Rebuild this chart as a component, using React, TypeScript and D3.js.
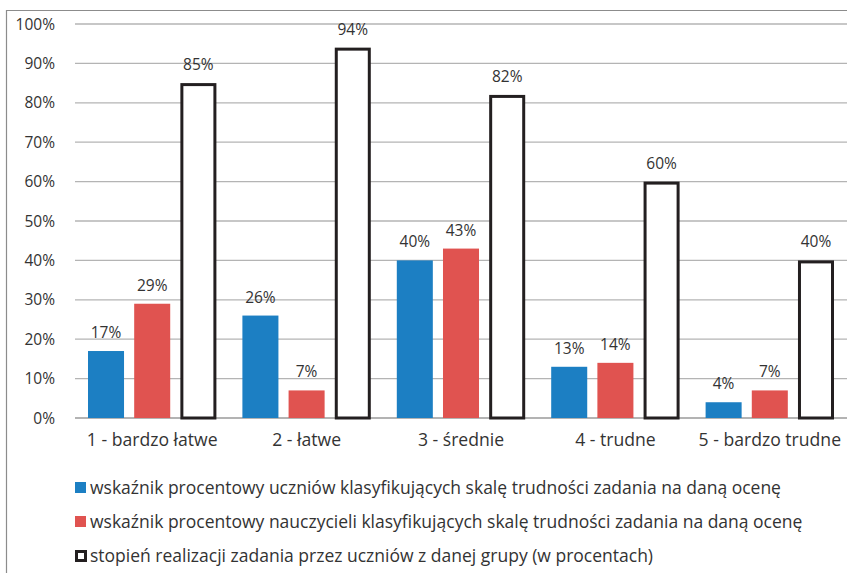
import * as React from "react"
import * as d3 from "d3"

const categories = ["1 - bardzo łatwe", "2 - łatwe", "3 - średnie", "4 - trudne", "5 - bardzo trudne"]
const studentsPct = [17, 26, 40, 13, 4]
const teachersPct = [29, 7, 43, 14, 7]
const realizationPct = [85, 94, 82, 60, 40]
const yTicks = [0, 10, 20, 30, 40, 50, 60, 70, 80, 90, 100]
const seriesKeys = ["students", "teachers", "realization"]
const legendLabels = [
  "wskaźnik procentowy uczniów klasyfikujących skalę trudności zadania na daną ocenę",
  "wskaźnik procentowy nauczycieli klasyfikujących skalę trudności zadania na daną ocenę",
  "stopień realizacji zadania przez uczniów z danej grupy (w procentach)",
]

const BLUE = "#1c7fc3"
const RED = "#e05350"
const DARK = "#231f20"
const TEXT = "#333333"
const FONT = "'Open Sans', sans-serif"

export default function App(): React.JSX.Element {
  const svgRef = React.useRef<SVGSVGElement>(null)
  const width = 847
  const height = 573

  React.useEffect(() => {
    const svg = d3.select(svgRef.current)
    svg.selectAll("*").remove()

    const margin = { left: 75, right: 0, top: 24, bottom: 155 }
    const x0 = d3
      .scaleBand()
      .domain(categories)
      .range([margin.left, width - margin.right])
      .padding(0)
    const x1 = d3
      .scaleBand()
      .domain(seriesKeys)
      .range([13, x0.bandwidth() - 13])
      .paddingInner(0.22)
    const y = d3
      .scaleLinear()
      .domain([0, 100])
      .range([height - margin.bottom, margin.top])

    // frame
    svg
      .append("path")
      .attr("d", `M6.5,${height} L6.5,10.5 L${width},10.5`)
      .attr("fill", "none")
      .attr("stroke", "#8c8c8c")
      .attr("stroke-width", 1.2)

    // gridlines
    svg
      .selectAll(".grid")
      .data(yTicks)
      .join("line")
      .attr("class", "grid")
      .attr("x1", margin.left)
      .attr("x2", width)
      .attr("y1", (d) => y(d))
      .attr("y2", (d) => y(d))
      .attr("stroke", (d) => (d === 0 ? "#9a9a9a" : "#b4b4b4"))
      .attr("stroke-width", 1.3)

    // y labels
    svg
      .selectAll(".ylab")
      .data(yTicks)
      .join("text")
      .attr("class", "ylab")
      .attr("x", 55)
      .attr("y", (d) => y(d))
      .attr("dy", "0.36em")
      .attr("text-anchor", "end")
      .attr("font-family", FONT)
      .attr("font-size", 15.5)
      .attr("fill", TEXT)
      .text((d) => `${d}%`)

    const groups = svg
      .selectAll(".grp")
      .data(categories)
      .join("g")
      .attr("class", "grp")
      .attr("transform", (d) => `translate(${x0(d)},0)`)

    const rows = categories.map((c, i) => [
      { key: "students", value: studentsPct[i] },
      { key: "teachers", value: teachersPct[i] },
      { key: "realization", value: realizationPct[i] },
    ])

    groups.each(function (_, i) {
      const g = d3.select(this)
      const data = rows[i]
      g.selectAll("rect")
        .data(data)
        .join("rect")
        .attr("x", (d) => (d.key === "realization" ? x1(d.key)! + 1.5 : x1(d.key)!))
        .attr("y", (d) => (d.key === "realization" ? y(d.value) + 1.5 : y(d.value)))
        .attr("width", (d) => (d.key === "realization" ? x1.bandwidth() - 3 : x1.bandwidth()))
        .attr("height", (d) => (d.key === "realization" ? y(0) - y(d.value) - 1.5 : y(0) - y(d.value)))
        .attr("fill", (d) => (d.key === "students" ? BLUE : d.key === "teachers" ? RED : "#ffffff"))
        .attr("stroke", (d) => (d.key === "realization" ? DARK : "none"))
        .attr("stroke-width", 3)

      g.selectAll("text")
        .data(data)
        .join("text")
        .attr("x", (d) => x1(d.key)! + x1.bandwidth() / 2)
        .attr("y", (d) => y(d.value) - 13)
        .attr("text-anchor", "middle")
        .attr("font-family", FONT)
        .attr("font-size", 15.5)
        .attr("fill", TEXT)
        .text((d) => `${d.value}%`)
    })

    // x labels
    svg
      .selectAll(".xlab")
      .data(categories)
      .join("text")
      .attr("class", "xlab")
      .attr("x", (d) => x0(d)! + x0.bandwidth() / 2)
      .attr("y", 446)
      .attr("text-anchor", "middle")
      .attr("font-family", FONT)
      .attr("font-size", 17.6)
      .attr("fill", TEXT)
      .text((d) => d)

    // legend
    const legend = svg
      .selectAll(".leg")
      .data(legendLabels)
      .join("g")
      .attr("class", "leg")
      .attr("transform", (_, i) => `translate(75,${488 + i * 34})`)

    legend
      .append("rect")
      .attr("x", (_, i) => (i === 2 ? 1.5 : 0))
      .attr("y", (_, i) => (i === 2 ? -4.5 : -6))
      .attr("width", (_, i) => (i === 2 ? 9 : 11))
      .attr("height", (_, i) => (i === 2 ? 9 : 11))
      .attr("fill", (_, i) => (i === 0 ? BLUE : i === 1 ? RED : "#ffffff"))
      .attr("stroke", (_, i) => (i === 2 ? DARK : "none"))
      .attr("stroke-width", 3)

    legend
      .append("text")
      .attr("x", 15)
      .attr("y", 0)
      .attr("dy", "0.36em")
      .attr("font-family", FONT)
      .attr("font-size", 17.5)
      .attr("fill", TEXT)
      .text((d) => d)
  }, [])

  return (
    <svg
      ref={svgRef}
      width={width}
      height={height}
      style={{ position: "absolute", left: 0, top: 0, background: "#ffffff" }}
    ></svg>
  )
}
